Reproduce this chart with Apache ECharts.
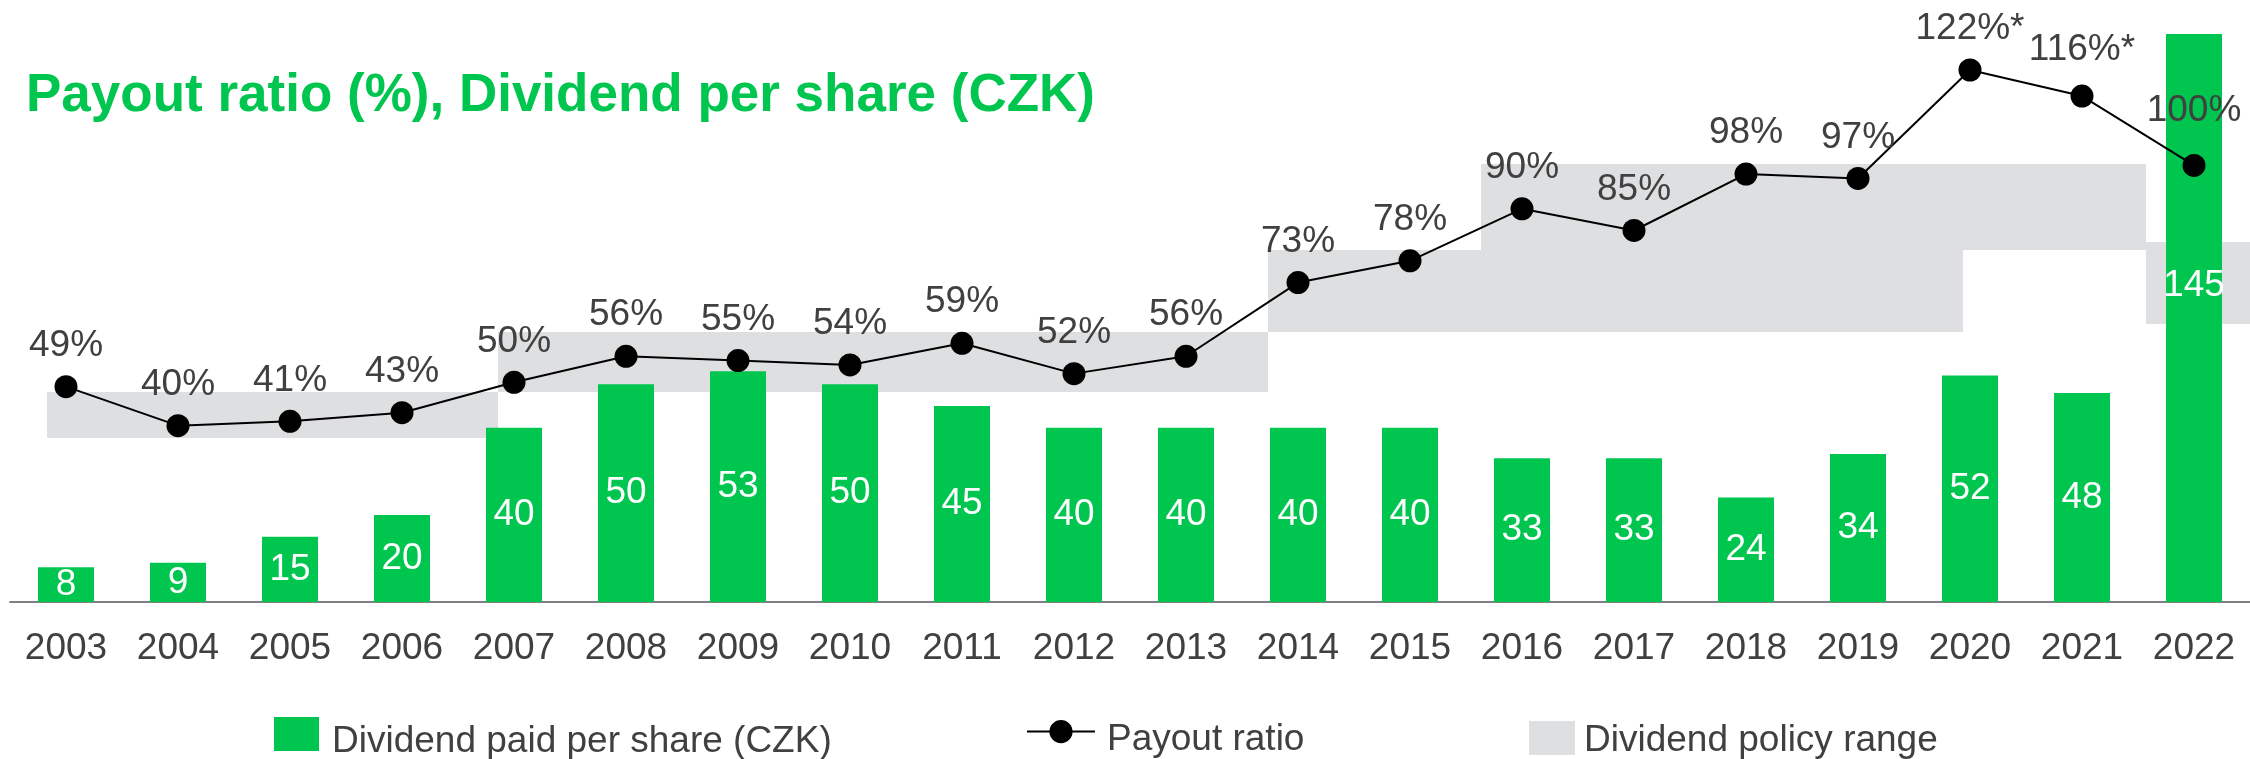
<!DOCTYPE html>
<html><head><meta charset="utf-8">
<script src="https://cdn.jsdelivr.net/npm/echarts@6/dist/echarts.min.js"></script>
<style>html,body{margin:0;padding:0;background:#fff}#c{width:2250px;height:759px}</style>
</head><body><div id="c"></div>
<script>
// ---- data ----
const years = ['2003','2004','2005','2006','2007','2008','2009','2010','2011','2012','2013','2014','2015','2016','2017','2018','2019','2020','2021','2022'];
const dividendCZK = [8, 9, 15, 20, 40, 50, 53, 50, 45, 40, 40, 40, 40, 33, 33, 24, 34, 52, 48, 145];
const payoutPct   = [49, 40, 41, 43, 50, 56, 55, 54, 59, 52, 56, 73, 78, 90, 85, 98, 97, 122, 116, 100];
const payoutNote  = ['', '', '', '', '', '', '', '', '', '', '', '', '', '', '', '', '', '*', '*', ''];
// dividend policy range bands (year span, low %, high %)
const policyFrom = [2002.83, 2006.86, 2013.73, 2015.63, 2021.57];
const policyTo   = [2006.86, 2013.73, 2019.94, 2021.57, 2022.5];
const policyLow  = [37.2, 47.8, 61.5, 80.6, 63.4];
const policyHigh = [47.8, 61.6, 80.6, 100.3, 82.3];

// ---- styles ----
const GREEN = '#00C650', GREY_BAND = '#DEDFE1', TXT = '#404040';
const FONT = "'Liberation Sans', Arial, sans-serif";
const GRID = { left: 10, right: -3, top: 34, bottom: 157 };
const GRID_H = 759 - GRID.top - GRID.bottom;
const BAR_MAX = 130.4;
const PCT_MIN = -0.65, PCT_MAX = 130.3;
const lineLabelLift = { 18: -5, 19: -14 };

const barData = dividendCZK.map(v => {
  if (v > BAR_MAX) {
    const off = -((v - BAR_MAX) * GRID_H / BAR_MAX) / 2;
    return { value: v, label: { offset: [0, off] } };
  }
  return v;
});
const lineData = payoutPct.map((v, i) => lineLabelLift[i] ? { value: v, label: { offset: [0, lineLabelLift[i]] } } : v);
const bandData = policyFrom.map((f, i) => [f, policyTo[i], policyLow[i], policyHigh[i]]);

function legendText(padTop, padLeft) {
  return { formatter: '{t|{name}}',
    textStyle: { rich: { t: { fontSize: 37, color: TXT, fontFamily: FONT, padding: [padTop, 0, 0, padLeft] } } } };
}

const chart = echarts.init(document.getElementById('c'), null, { renderer: 'canvas' });
chart.setOption({
  animation: false,
  backgroundColor: '#fff',
  textStyle: { fontFamily: FONT },
  title: {
    text: 'Payout ratio (%), Dividend per share (CZK)',
    left: 26, top: 70, padding: 0,
    textStyle: { fontFamily: FONT, fontSize: 53, fontWeight: 'bold', color: GREEN, lineHeight: 53 }
  },
  grid: GRID,
  xAxis: [
    { type: 'category', data: years, axisTick: { show: false },
      axisLine: { lineStyle: { color: '#808080', width: 2 } },
      axisLabel: { color: TXT, fontSize: 37, fontFamily: FONT, margin: 28, interval: 0 } },
    { type: 'value', min: 2002.5, max: 2022.5, show: false }
  ],
  yAxis: [
    { type: 'value', min: 0, max: BAR_MAX, show: false, splitLine: { show: false } },
    { type: 'value', min: PCT_MIN, max: PCT_MAX, show: false, splitLine: { show: false } }
  ],
  legend: [
    Object.assign({ data: ['Dividend paid per share (CZK)'], left: 274, top: 717, padding: 0, icon: 'rect',
      itemWidth: 45, itemHeight: 34, selectedMode: false }, legendText(15, 8)),
    Object.assign({ data: ['Payout ratio'], left: 1026, top: 720, padding: 0,
      itemWidth: 68, itemHeight: 29, selectedMode: false }, legendText(16, 7)),
    Object.assign({ data: ['Dividend policy range'], left: 1529, top: 721, padding: 0, icon: 'rect',
      itemWidth: 46, itemHeight: 34, selectedMode: false }, legendText(5, 4))
  ],
  series: [
    { name: 'Dividend policy range', type: 'custom', xAxisIndex: 1, yAxisIndex: 1, z: 1,
      itemStyle: { color: GREY_BAND },
      encode: { x: [0, 1], y: [2, 3] },
      data: bandData,
      renderItem: function (params, api) {
        const p0 = api.coord([api.value(0), api.value(3)]);
        const p1 = api.coord([api.value(1), api.value(2)]);
        const x0 = Math.round(p0[0]), y0 = Math.round(p0[1]);
        const x1 = Math.round(p1[0]), y1 = Math.round(p1[1]);
        return { type: 'rect', shape: { x: x0, y: y0, width: x1 - x0, height: y1 - y0 },
                 style: { fill: GREY_BAND } };
      }
    },
    { name: 'Dividend paid per share (CZK)', type: 'bar', xAxisIndex: 0, yAxisIndex: 0, z: 2,
      barWidth: 56, itemStyle: { color: GREEN },
      label: { show: true, position: 'inside', color: '#fff', fontSize: 37, fontFamily: FONT },
      data: barData },
    { name: 'Payout ratio', type: 'line', xAxisIndex: 0, yAxisIndex: 1, z: 3,
      symbol: 'circle', symbolSize: 23,
      lineStyle: { color: '#000', width: 2 }, itemStyle: { color: '#000' },
      label: { show: true, position: 'top', distance: 11, color: TXT, fontSize: 37, fontFamily: FONT,
               formatter: p => p.value + '%' + payoutNote[p.dataIndex] },
      data: lineData }
  ]
});
</script></body></html>
